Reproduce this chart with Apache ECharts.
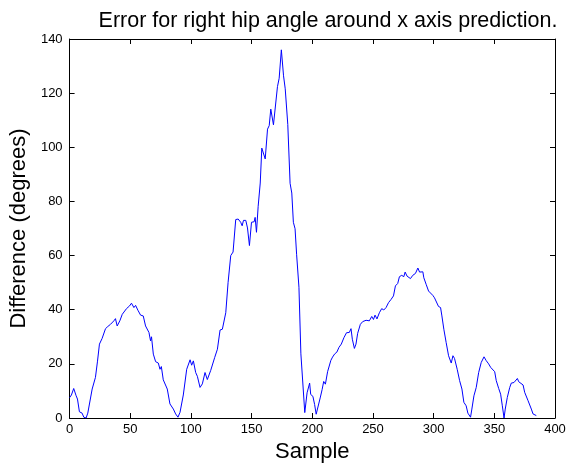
<!DOCTYPE html>
<html>
<head>
<meta charset="utf-8">
<script src="https://cdn.jsdelivr.net/npm/echarts@6/dist/echarts.min.js"></script>
<style>
  html, body { margin: 0; padding: 0; background: #fff; }
  #chart { width: 570px; height: 468px; }
</style>
</head>
<body>
<div id="chart"></div>
<script>
const titleText = 'Error for right hip angle around x axis prediction.';
const xName = 'Sample';
const yName = 'Difference (degrees)';
const xTicks = [0, 50, 100, 150, 200, 250, 300, 350, 400];
const yTicks = [0, 20, 40, 60, 80, 100, 120, 140];

const sampleIdx = [0,1.5,3.4,5.4,6.5,8.1,10.3,11.7,13.6,15,16.4,18.6,21.3,23,24.6,26.8,29.6,31.5,33.7,35,36.5,37.8,39.2,41.4,43.4,44.7,46.9,49.4,51,53,54.4,56.3,58.5,60.7,62.6,65.4,66.7,67.5,69,70.9,73.1,74.5,75.6,77.2,80.5,82.7,85.5,87.4,89.3,91,93.7,96.5,99.3,100.6,102,103.9,105.3,107.5,109.4,111.6,113.5,116.3,119.6,121.8,124,125.9,128.7,130.6,132.8,134.7,136.9,138.9,141,142.2,143.3,145.2,146.6,148.2,149.9,152.1,152.9,154,155.4,157.1,158.4,159.5,161.2,163.1,164.5,165.8,168,169.1,171.3,172.7,174.5,176.3,177.7,179.8,181.7,183.1,184.4,185.8,187.1,189,190.6,191.7,193.8,194.6,195.7,197,197.8,198.7,200.5,201.9,203.2,204.6,206.5,208.1,209.4,210.8,212.6,214,215.3,216.7,218.5,220.2,222,223.9,226.1,228.2,230.5,231.9,233,234.7,236,237.4,239.6,241.5,244.3,247,249,250.4,251.7,253.3,255.3,257.2,258.9,260.8,262.8,264.9,266.9,268.5,270.4,271.8,273.7,275.4,276.5,278.1,280.9,282.8,285,287,288.4,289.7,291.1,291.9,293.8,295.8,297.4,299.3,300.7,302.1,304,305.7,306.8,308.4,310.3,312.3,313.6,314.5,315.9,317.2,319.4,321.4,323.3,324.9,326.8,328.2,330.4,331.5,333.2,335.1,337.1,339.2,341.5,343.3,345.3,347,348,350.3,351.6,353.6,355.2,356.6,358,359,360.7,362.7,364,366.2,367.3,369,370.1,371.7,373.7,375,376.4,377.8,379.2,380.5,381.9,383.3,384.6];

const diffValues = [7.5,8.5,10.9,8.2,7,2.3,1.8,0.3,0,1.8,2,10.7,15,21,27.3,29.4,33,33.8,34.6,34,35.9,36.7,34,35.9,38.3,38,40.4,41.4,42.4,40.8,41.6,39.8,38,37.7,34,31.6,28.5,30,23.6,20.8,20.3,18,19,14.1,10.7,5.2,3.3,1.5,0.3,2.1,8.5,18,21.5,19.5,21.1,16.8,15.4,11.3,12.6,16.8,14.2,17.6,22.4,25.4,32.5,32.8,38.9,50,60,61.3,73.3,73.5,72.3,71,73,73,70.2,63.7,72.3,72.5,74.1,68.6,78.2,86.8,99.7,100.3,95.7,106.7,108,114.1,108.3,108.9,122.4,125.5,136,126.4,121.6,108.4,86.7,83.1,72.3,69.9,60.3,48.3,23.7,23.1,2,2.6,9.3,9.3,12.9,8.7,8,5,1.4,2,7.4,10.5,13.5,12.5,17.1,17.7,21.3,22.5,23.7,24.3,26.1,27.3,29.7,31.5,31.6,33,29.1,25.7,27.3,31.3,34.6,35.6,36.1,35.9,37.5,36.4,38,36.6,38.9,40.4,39.9,40.8,42.6,43.8,45.1,48.8,49.7,52.2,52.7,52.2,53.9,52.4,51.5,52.7,53.4,55.4,53.9,54.5,54,51.8,49.4,46.9,46.3,45.3,44.4,43.8,41.2,40.8,37.7,32.8,27.9,23,22.4,20.3,23,22,18,13.8,10.7,5.8,4.5,1.8,0.3,3.3,8.2,11.3,16.8,20.5,22.6,21.2,20,18.7,18.3,17.1,13.8,10.9,8.8,4.5,0,3.3,7.6,11.3,12.9,13.1,12.5,14.6,13.4,13.8,12.2,9.5,10.1,6.4,6.4,3.3,1.5,1.1,0.9];

const seriesData = sampleIdx.map((s, i) => [s, diffValues[i]]);

const FONT = '"Liberation Sans", Arial, Helvetica, sans-serif';
const axisLineStyle = { show: true, onZero: false, lineStyle: { color: '#000', width: 1 } };
const tickStyle = { show: true, inside: true, length: 5, lineStyle: { color: '#000' } };

const chart = echarts.init(document.getElementById('chart'), null, { renderer: 'canvas' });
chart.setOption({
  animation: false,
  backgroundColor: '#fff',
  title: {
    text: titleText,
    left: 323,
    top: 5,
    textAlign: 'center',
    textStyle: { fontFamily: FONT, fontSize: 21.5, fontWeight: 'normal', color: '#000' }
  },
  grid: { left: 69, right: 15, top: 39, bottom: 49, containLabel: false },
  xAxis: [
    {
      type: 'value', min: xTicks[0], max: xTicks[xTicks.length - 1], interval: 50,
      position: 'bottom',
      name: xName, nameLocation: 'middle', nameGap: 23,
      nameTextStyle: { fontFamily: FONT, fontSize: 22, color: '#000' },
      axisLine: axisLineStyle,
      axisTick: tickStyle,
      axisLabel: { fontFamily: FONT, fontSize: 13, color: '#000', margin: 5 },
      splitLine: { show: false }
    },
    {
      type: 'value', min: xTicks[0], max: xTicks[xTicks.length - 1], interval: 50,
      position: 'top',
      axisLine: axisLineStyle,
      axisTick: tickStyle,
      axisLabel: { show: false },
      splitLine: { show: false }
    }
  ],
  yAxis: [
    {
      type: 'value', min: yTicks[0], max: yTicks[yTicks.length - 1], interval: 20,
      position: 'left',
      name: yName, nameLocation: 'middle', nameGap: 27, nameRotate: 90,
      nameTextStyle: { fontFamily: FONT, fontSize: 22, color: '#000' },
      axisLine: axisLineStyle,
      axisTick: tickStyle,
      axisLabel: { fontFamily: FONT, fontSize: 13, color: '#000', margin: 7 },
      splitLine: { show: false }
    },
    {
      type: 'value', min: yTicks[0], max: yTicks[yTicks.length - 1], interval: 20,
      position: 'right',
      axisLine: axisLineStyle,
      axisTick: tickStyle,
      axisLabel: { show: false },
      splitLine: { show: false }
    }
  ],
  series: [{
    type: 'line',
    data: seriesData,
    xAxisIndex: 0,
    yAxisIndex: 0,
    showSymbol: false,
    symbol: 'none',
    lineStyle: { color: '#0000ff', width: 1 },
    itemStyle: { color: '#0000ff' }
  }]
});
</script>
</body>
</html>
